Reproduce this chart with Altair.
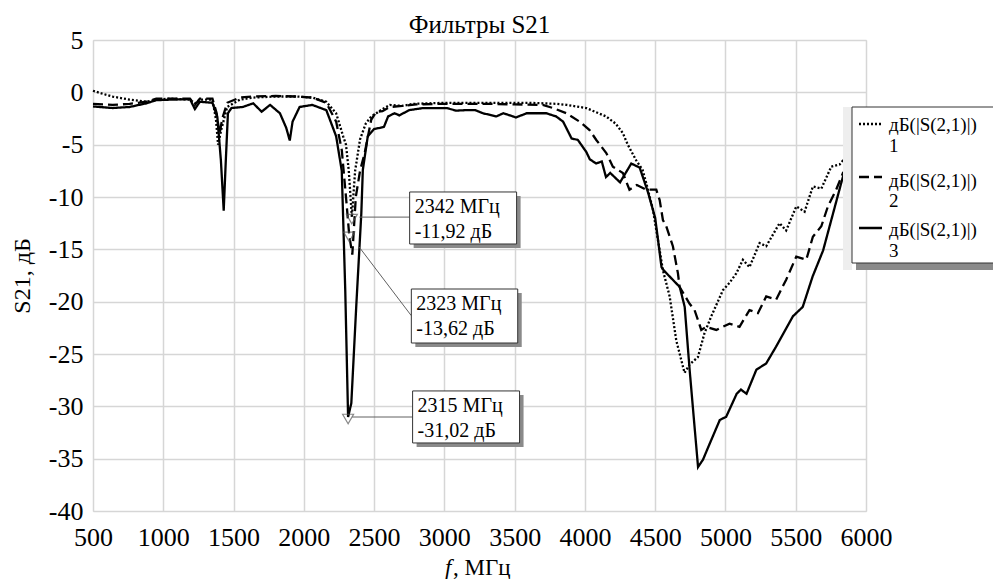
import altair as alt
import pandas as pd

# ---------------- data ----------------
f1 = [500, 560, 640, 760, 880, 950, 1050, 1190, 1225, 1260, 1350, 1375, 1390, 1412, 1455, 1545,
      1640, 1800, 1950, 2060, 2160, 2230, 2280, 2300, 2320, 2342, 2365, 2400, 2440, 2480, 2516,
      2560, 2611, 2700, 2780, 3000, 3300, 3600, 3800, 3870, 4010, 4150, 4220, 4270, 4305, 4365,
      4410, 4437, 4484, 4532, 4555, 4603, 4650, 4709, 4745, 4804, 4851, 4899, 4982, 5029, 5077,
      5124, 5171, 5243, 5290, 5385, 5432, 5504, 5563, 5622, 5682, 5753, 5812, 5836, 5900]
s1 = [0.15, -0.1, -0.4, -0.7, -0.9, -0.7, -0.6, -0.7, -1.05, -0.7, -0.7, -2.6, -5.0, -3.6, -1.4, -0.7,
      -0.5, -0.4, -0.4, -0.5, -0.9, -2.0, -4.2, -5.0, -7.5, -11.92, -7.5, -4.5, -3.0, -2.3, -2.0,
      -1.6, -1.2, -1.3, -1.1, -1.0, -1.0, -1.0, -1.1, -1.2, -1.5, -2.3, -3.0, -3.9, -5.0, -6.5,
      -7.4, -8.7, -11.2, -15.1, -17.0, -19.5, -23.7, -26.8, -26.0, -25.3, -23.0, -21.4, -18.9, -18.2, -17.3,
      -16.0, -16.7, -14.4, -14.7, -12.5, -13.2, -10.9, -11.4, -9.0, -9.2, -7.1, -6.9, -6.5, -6.2]

f2 = [500, 640, 760, 880, 950, 1050, 1190, 1225, 1260, 1350, 1380, 1400, 1420, 1455, 1545, 1640,
      1800, 1950, 2060, 2160, 2230, 2270, 2300, 2323, 2345, 2370, 2400, 2433, 2480, 2516, 2560,
      2611, 2700, 2800, 3000, 3300, 3500, 3700, 3773, 3868, 3962, 4033, 4081, 4152, 4199, 4270,
      4317, 4370, 4437, 4508, 4532, 4555, 4579, 4626, 4662, 4674, 4745, 4780, 4828, 4863, 4935,
      5029, 5100, 5171, 5231, 5290, 5361, 5432, 5504, 5575, 5622, 5682, 5729, 5788, 5836, 5900]
s2 = [-1.1, -1.2, -1.1, -0.9, -0.6, -0.6, -0.6, -1.2, -0.6, -0.6, -2.0, -4.0, -2.5, -1.0, -0.5, -0.4,
      -0.35, -0.4, -0.5, -1.0, -2.8, -5.5, -10.0, -13.62, -15.5, -10.0, -7.5, -5.8, -2.6, -1.85, -1.8,
      -1.4, -1.3, -1.15, -1.1, -1.1, -1.15, -1.2, -1.5, -2.0, -2.8, -3.6, -4.55, -5.8, -7.1, -7.7,
      -9.3, -8.85, -9.3, -9.3, -10.3, -12.2, -12.8, -14.7, -17.3, -18.6, -20.2, -20.8, -22.7, -22.4, -22.7,
      -22.1, -22.4, -20.8, -21.1, -19.5, -19.8, -17.9, -15.7, -16.0, -13.8, -12.8, -10.9, -9.3, -7.7, -6.8]

f3 = [500, 640, 760, 880, 950, 1050, 1190, 1225, 1260, 1350, 1385, 1410, 1430, 1445, 1460, 1485,
      1565, 1640, 1700, 1760, 1830, 1875, 1900, 1920, 1970, 2060, 2160, 2230, 2270, 2295, 2315,
      2338, 2374, 2409, 2420, 2455, 2500, 2540, 2570, 2600, 2645, 2680, 2750, 2850, 3015, 3085,
      3155, 3220, 3275, 3370, 3420, 3510, 3585, 3725, 3795, 3845, 3905, 3950, 4010, 4035, 4080,
      4120, 4150, 4180, 4250, 4330, 4390, 4450, 4500, 4545, 4560, 4675, 4710, 4745, 4805, 4840,
      4890, 4960, 5005, 5080, 5110, 5150, 5220, 5290, 5360, 5480, 5550, 5620, 5695, 5765, 5835, 5900]
s3 = [-1.35, -1.5, -1.4, -1.05, -0.75, -0.7, -0.65, -1.6, -0.9, -1.0, -2.4, -6.5, -11.3, -6.5, -2.0, -1.5,
      -1.4, -1.05, -1.85, -1.2, -2.0, -3.4, -4.6, -2.8, -1.4, -1.2, -1.7, -4.2, -7.5, -19.0, -31.02,
      -29.7, -20.2, -11.6, -7.4, -4.2, -3.5, -3.4, -3.3, -2.3, -2.0, -2.2, -1.7, -1.5, -1.5, -1.75,
      -1.7, -1.7, -2.0, -2.3, -2.0, -2.4, -2.0, -2.0, -2.3, -2.8, -4.4, -4.55, -5.7, -6.4, -6.8,
      -6.6, -8.1, -7.7, -8.6, -6.8, -7.2, -9.6, -12.0, -16.7, -17.0, -18.6, -20.5, -26.5, -35.8, -35.1,
      -33.5, -31.3, -31.0, -28.8, -28.4, -28.8, -26.5, -25.9, -24.3, -21.4, -20.5, -17.6, -15.1, -11.6, -8.1, -6.0]

series_names = ["1", "2", "3"]
marker_f = [2342, 2323, 2315]
marker_db = [-11.92, -13.62, -31.02]

x_ticks = list(range(500, 6001, 500))
y_ticks = list(range(-40, 6, 5))

# ---------------- tables ----------------
rows = []
for name, fs, vs in zip(series_names, [f1, f2, f3], [s1, s2, s3]):
    for f, v in zip(fs, vs):
        rows.append({"f": f, "db": v, "series": name})
df = pd.DataFrame(rows)

# callout layout (data units), kept separate from the data
box_x0 = [2753, 2765, 2774]
box_x1 = [3514, 3522, 3535]
box_y0 = [-9.52, -18.79, -28.53]
box_y1 = [-14.49, -23.95, -33.5]
con_x0 = [2395, 2395, 2345]
con_y0 = [-11.92, -14.8, -31.02]
con_y1 = [-11.92, -21.34, -31.02]

ann = pd.DataFrame({
    "mf": marker_f, "mdb": marker_db,
    "l1": [f"{f} МГц" for f in marker_f],
    "l2": [f"{v:.2f}".replace(".", ",") + " дБ" for v in marker_db],
    "bx0": box_x0, "bx1": box_x1, "by0": box_y0, "by1": box_y1,
    "cx0": con_x0, "cy0": con_y0, "cy1": con_y1,
})
one = pd.DataFrame({"k": [0]})

FONT = "Liberation Serif, Times New Roman, serif"
W, H = 773, 471

xscale = alt.Scale(domain=[500, 6000], nice=False, zero=False)
yscale = alt.Scale(domain=[-40, 5], nice=False, zero=False)

xaxis = alt.Axis(values=x_ticks, title=None, grid=True, labelExpr="'' + datum.value",
                 labelPadding=13, labelFont=FONT, labelFontSize=26)
yaxis = alt.Axis(values=y_ticks, title="S21, дБ", grid=True, labelExpr="'' + datum.value",
                 labelPadding=10, labelFont=FONT, labelFontSize=26,
                 titleFont=FONT, titleFontSize=24,
                 titleAngle=-90, titleX=-71, titleY=H / 2, titleAlign="center", titleBaseline="middle")

lines = alt.Chart(df).mark_line(color="black", strokeWidth=2.3).encode(
    x=alt.X("f:Q", scale=xscale, axis=xaxis),
    y=alt.Y("db:Q", scale=yscale, axis=yaxis),
    strokeDash=alt.StrokeDash("series:N", scale=alt.Scale(domain=series_names,
                              range=[[2, 2], [10, 5], [1, 0]]), legend=None),
    detail="series:N",
)

base = alt.Chart(ann)
XA = dict(scale=xscale)
YA = dict(scale=yscale)
markers = base.mark_point(shape="triangle-down", filled=False, stroke="#555555",
                          strokeWidth=1.2, size=120, yOffset=2).encode(
    x=alt.X("mf:Q", **XA), y=alt.Y("mdb:Q", **YA))
connectors = base.mark_rule(color="#606060", strokeWidth=1).encode(
    x=alt.X("cx0:Q", **XA), x2="bx0:Q",
    y=alt.Y("cy0:Q", **YA), y2="cy1:Q")
shadows = base.mark_rect(fill="#8a8a8a", xOffset=4, x2Offset=4, yOffset=4, y2Offset=4).encode(
    x=alt.X("bx0:Q", **XA), x2="bx1:Q", y=alt.Y("by0:Q", **YA), y2="by1:Q")
boxes = base.mark_rect(fill="white", stroke="#333333", strokeWidth=1).encode(
    x=alt.X("bx0:Q", **XA), x2="bx1:Q", y=alt.Y("by0:Q", **YA), y2="by1:Q")
txt1 = base.mark_text(font=FONT, fontSize=20, align="left", baseline="alphabetic",
                      dx=5, dy=21, color="black").encode(
    x=alt.X("bx0:Q", **XA), y=alt.Y("by0:Q", **YA), text="l1:N")
txt2 = base.mark_text(font=FONT, fontSize=20, align="left", baseline="alphabetic",
                      dx=5, dy=46, color="black").encode(
    x=alt.X("bx0:Q", **XA), y=alt.Y("by0:Q", **YA), text="l2:N")

# ---------------- hand-made legend (pixel layout) ----------------
leg_strip = alt.Chart(one).mark_rect(fill="#eeeeee").encode(
    x=alt.value(750), x2=alt.value(759), y=alt.value(67), y2=alt.value(230))
leg_shadow = alt.Chart(one).mark_rect(fill="#8a8a8a").encode(
    x=alt.value(763), x2=alt.value(915), y=alt.value(223), y2=alt.value(230))
leg_box = alt.Chart(one).mark_rect(fill="white", stroke="#333333", strokeWidth=1).encode(
    x=alt.value(759), x2=alt.value(915), y=alt.value(67), y2=alt.value(223))

leg_rows = pd.DataFrame({
    "series": series_names,
    "ly": [84, 137, 188],
    "t1y": [91, 147, 196],
    "t2y": [112, 167, 217],
    "t1": ["дБ(|S(2,1)|)"] * 3,
})
leg_lines = alt.Chart(leg_rows).mark_rule(color="black", strokeWidth=2.3).encode(
    x=alt.value(766), x2=alt.value(789),
    y=alt.Y("ly:Q", scale=None),
    strokeDash=alt.StrokeDash("series:N", scale=alt.Scale(domain=series_names,
                              range=[[2, 2], [10, 5], [1, 0]]), legend=None),
)
leg_t1 = alt.Chart(leg_rows).mark_text(font=FONT, fontSize=19, align="left",
                                       baseline="alphabetic", color="black").encode(
    x=alt.value(796), y=alt.Y("t1y:Q", scale=None), text="t1:N")
leg_t2 = alt.Chart(leg_rows).mark_text(font=FONT, fontSize=19, align="left",
                                       baseline="alphabetic", color="black").encode(
    x=alt.value(796), y=alt.Y("t2y:Q", scale=None), text="series:N")

# chart title and x-axis title (italic f) as text marks
title_t = alt.Chart(one).mark_text(text="Фильтры S21", font=FONT, fontSize=25,
                                   align="center", baseline="alphabetic", color="black").encode(
    x=alt.value(W / 2), y=alt.value(-7))
xt_f = alt.Chart(one).mark_text(text="f", font=FONT, fontSize=23, fontStyle="italic",
                                align="left", baseline="alphabetic", color="black").encode(
    x=alt.value(352), y=alt.value(535))
xt_rest = alt.Chart(one).mark_text(text=", МГц", font=FONT, fontSize=23,
                                   align="left", baseline="alphabetic", color="black").encode(
    x=alt.value(360), y=alt.value(535))

chart = alt.layer(
    lines, markers, connectors, shadows, boxes, txt1, txt2,
    leg_strip, leg_shadow, leg_box, leg_lines, leg_t1, leg_t2, title_t, xt_f, xt_rest,
).resolve_scale(strokeDash="shared").properties(
    width=W, height=H,
    autosize=alt.AutoSizeParams(type="none"),
    padding={"left": 93, "top": 40, "right": 127, "bottom": 68},
).configure_view(stroke="#808080", strokeWidth=1.5).configure(
    background="white", font=FONT,
    style={"guide-label": {"font": FONT}, "guide-title": {"font": FONT}},
).configure_axis(
    gridColor="#d6d6d6", gridWidth=1.5, domain=False, ticks=False,
    labelFont=FONT, labelFontSize=26, labelColor="black", labelFlush=False, labelOverlap=False,
    titleFont=FONT, titleFontSize=24, titleFontWeight="normal", titleColor="black",
)

chart.save("out.html", embed_options={"renderer": "svg", "actions": False})
